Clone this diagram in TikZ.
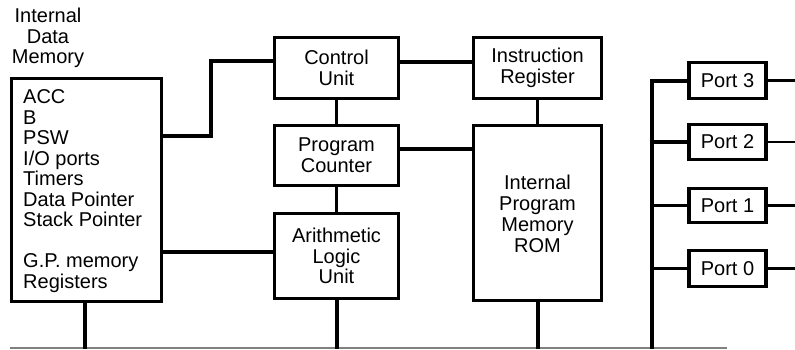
\documentclass[tikz,border=0pt]{standalone}
\usepackage{fontspec}
\setmainfont{Liberation Sans}
\begin{document}
\begin{tikzpicture}[x=1pt,y=-1pt,
  txt/.style={font=\fontsize{20}{20.8}\selectfont},
  blk/.style={draw,line width=3.2pt,inner sep=0pt,align=center,txt},
  wire/.style={line width=3.2pt},
  bus/.style={line width=4pt},
  stub/.style={line width=2.8pt}]
\useasboundingbox (0,0) rectangle (795,349);

% ground rail
\coordinate (railL) at (10,348);
\coordinate (railR) at (727,348);
\draw[gray,line width=1.2pt] (railL) -- (railR);

% internal data memory
\node[blk,minimum width=150pt,minimum height=223pt] (dm) at (86.5,190) {};
\node[anchor=north west,align=left,inner sep=0pt,
  font=\fontsize{20}{20.5}\selectfont] (dmtxt) at (23,89.5)
  {ACC\\B\\PSW\\I/O ports\\Timers\\Data Pointer\\Stack Pointer\\[20.5pt]G.P. memory\\Registers};
\node[align=center,inner sep=0pt,txt] (dmlbl) at (48,38)
  {Internal\\Data\\Memory};

% central blocks
\node[blk,minimum width=124pt,minimum height=61pt] (cu) at (336.5,68) {Control\\Unit};
\node[blk,minimum width=124pt,minimum height=60pt] (pc) at (336.5,155.5) {Program\\Counter};
\node[blk,minimum width=124pt,minimum height=85pt] (alu) at (336.5,256) {Arithmetic\\Logic\\Unit};
\node[blk,minimum width=128pt,minimum height=61pt] (ir) at (537.5,68) {Instruction\\Register};
\node[blk,minimum width=128pt,minimum height=175pt] (rom) at (537.5,213) {};
\node[align=center,inner sep=0pt,txt] (romtxt) at (537.5,214)
  {Internal\\Program\\Memory\\ROM};

% ports
\node[blk,minimum width=77pt,minimum height=36pt] (p3) at (727.5,80.5) {Port 3};
\node[blk,minimum width=77pt,minimum height=35pt] (p2) at (727.5,142) {Port 2};
\node[blk,minimum width=77pt,minimum height=34pt] (p1) at (727.5,205.5) {Port 1};
\node[blk,minimum width=77pt,minimum height=36pt] (p0) at (727.5,268.5) {Port 0};

% connectors
\coordinate (j1) at (211,136);
\coordinate (j2) at (211,61);
\draw[wire] (dm.east |- j1) -- (j1) -- (j2) -- (cu.west |- j2);
\draw[wire] (dm.east |- 0,252) -- (alu.west |- 0,252);
\draw[wire] (cu.east |- 0,62) -- (ir.west |- 0,62);
\draw[wire] (pc.east |- 0,149) -- (rom.west |- 0,149);
\draw[wire] (cu.south) -- (pc.north);
\draw[wire] (pc.south) -- (alu.north);
\draw[wire] (ir.south) -- (rom.north);

% drops to the rail
\draw[bus] (dm.south -| 85,0) -- (85,349);
\draw[bus] (alu.south) -- (336.5,349);
\draw[bus] (rom.south) -- (537.5,349);

% port bus
\coordinate (btop) at (652,80.5);
\draw[bus] (p3.west) -- (btop) -- (652,349);
\draw[bus] (652,142) -- (p2.west);
\draw[stub] (652,205.5) -- (p1.west);
\draw[stub] (652,268.5) -- (p0.west);
\foreach \p in {p3,p2,p1,p0}
  \draw[stub] (\p.east) -- (\p.east -| 795,0);
\end{tikzpicture}
\end{document}
